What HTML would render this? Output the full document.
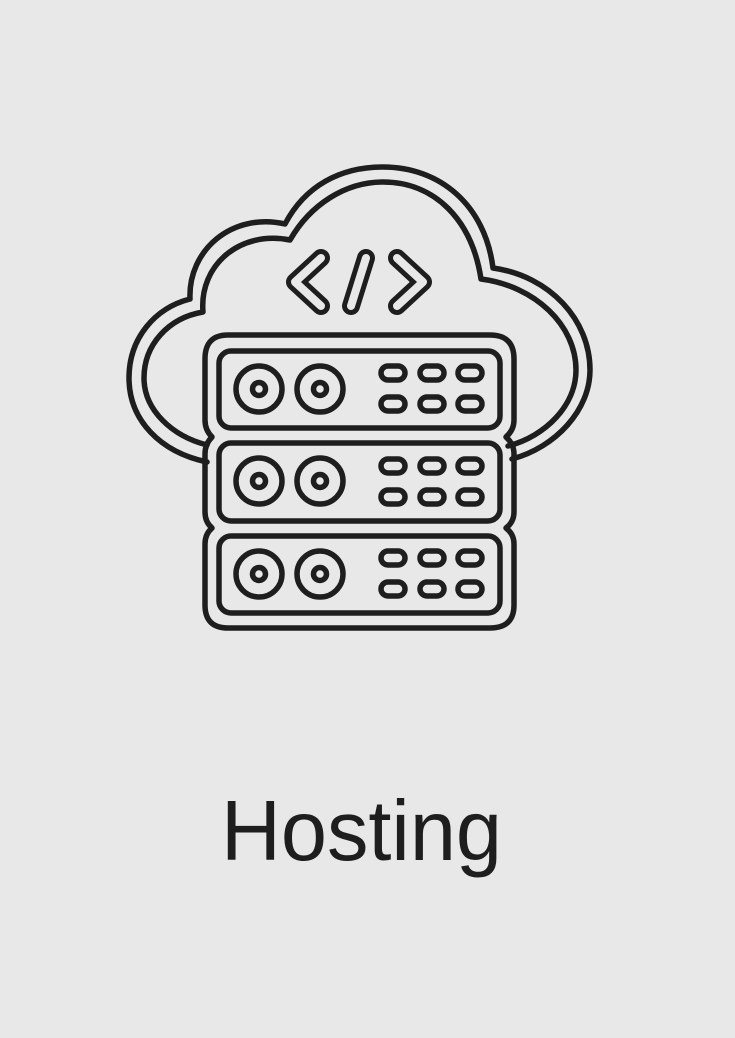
<!DOCTYPE html>
<html><head><meta charset="utf-8"><style>
html,body{margin:0;padding:0;background:#e8e8e8;}
svg{display:block}
</style></head><body>
<svg width="735" height="1038" viewBox="0 0 735 1038" xmlns="http://www.w3.org/2000/svg">
<rect width="735" height="1038" fill="#e8e8e8"/>
<g fill="none" stroke="#1e1e1e" stroke-width="5.5" stroke-linecap="round" stroke-linejoin="round">
  <path d="M 207 462 C 160 452, 129 420, 129 378 C 129 338, 155 308, 190 299 C 188 250, 232 212, 285 224 C 305 186, 340 167, 383 167 C 440 167, 485 205, 493 268 C 550 276, 590 320, 590 370 C 590 410, 556 447, 512 459"/>
  <path d="M 207 445 C 172 436, 144 410, 144 378 C 144 345, 168 318, 203 312 C 199 265, 240 230, 290 240 C 310 205, 345 182, 383 182 C 435 182, 472 220, 481 279 C 535 286, 576 325, 576 370 C 576 405, 546 436, 508 446"/>
  <path d="M 228 335 L 490 335 Q 514 335 514 359 L 514 420 Q 514 430 506 437 Q 514 444 514 454 L 514 512 Q 514 522 506 528 Q 514 534 514 544 L 514 605 Q 514 628 490 628 L 228 628 Q 205 628 205 605 L 205 544 Q 205 534 212 528 Q 205 522 205 512 L 205 454 Q 205 444 212 437 Q 205 430 205 420 L 205 359 Q 205 335 228 335 Z"/>
  <rect x="219" y="351" width="281" height="77" rx="12"/>
  <rect x="219" y="443" width="281" height="78" rx="12"/>
  <rect x="219" y="536" width="281" height="77" rx="12"/>
  <g>
    <circle cx="259" cy="389" r="23"/><circle cx="259" cy="389" r="6.5"/>
    <circle cx="320" cy="389" r="23"/><circle cx="320" cy="389" r="6.5"/>
    <circle cx="259" cy="481" r="23"/><circle cx="259" cy="481" r="6.5"/>
    <circle cx="320" cy="481" r="23"/><circle cx="320" cy="481" r="6.5"/>
    <circle cx="259" cy="574" r="23"/><circle cx="259" cy="574" r="6.5"/>
    <circle cx="320" cy="574" r="23"/><circle cx="320" cy="574" r="6.5"/>
  </g>
  <g>
    <rect x="381" y="366" width="24" height="14" rx="7"/><rect x="420" y="366" width="24" height="14" rx="7"/><rect x="458" y="366" width="24" height="14" rx="7"/>
    <rect x="381" y="397" width="24" height="14" rx="7"/><rect x="420" y="397" width="24" height="14" rx="7"/><rect x="458" y="397" width="24" height="14" rx="7"/>
    <rect x="381" y="459" width="24" height="14" rx="7"/><rect x="420" y="459" width="24" height="14" rx="7"/><rect x="458" y="459" width="24" height="14" rx="7"/>
    <rect x="381" y="490" width="24" height="14" rx="7"/><rect x="420" y="490" width="24" height="14" rx="7"/><rect x="458" y="490" width="24" height="14" rx="7"/>
    <rect x="381" y="551" width="24" height="14" rx="7"/><rect x="420" y="551" width="24" height="14" rx="7"/><rect x="458" y="551" width="24" height="14" rx="7"/>
    <rect x="381" y="582" width="24" height="14" rx="7"/><rect x="420" y="582" width="24" height="14" rx="7"/><rect x="458" y="582" width="24" height="14" rx="7"/>
  </g>
</g>
<g fill="none" stroke-linecap="round" stroke-linejoin="round">
  <g stroke="#1e1e1e" stroke-width="18">
    <path d="M 321 258 L 295 282 L 321 306"/>
    <path d="M 366 258 L 351 306"/>
    <path d="M 397 258 L 423 282 L 397 306"/>
  </g>
  <g stroke="#e8e8e8" stroke-width="8">
    <path d="M 321 258 L 295 282 L 321 306"/>
    <path d="M 366 258 L 351 306"/>
    <path d="M 397 258 L 423 282 L 397 306"/>
  </g>
</g>
<text x="221" y="860" font-family="Liberation Sans, sans-serif" font-size="85" fill="#1e1e1e" textLength="281" lengthAdjust="spacingAndGlyphs">Hosting</text>
</svg>
</body></html>
